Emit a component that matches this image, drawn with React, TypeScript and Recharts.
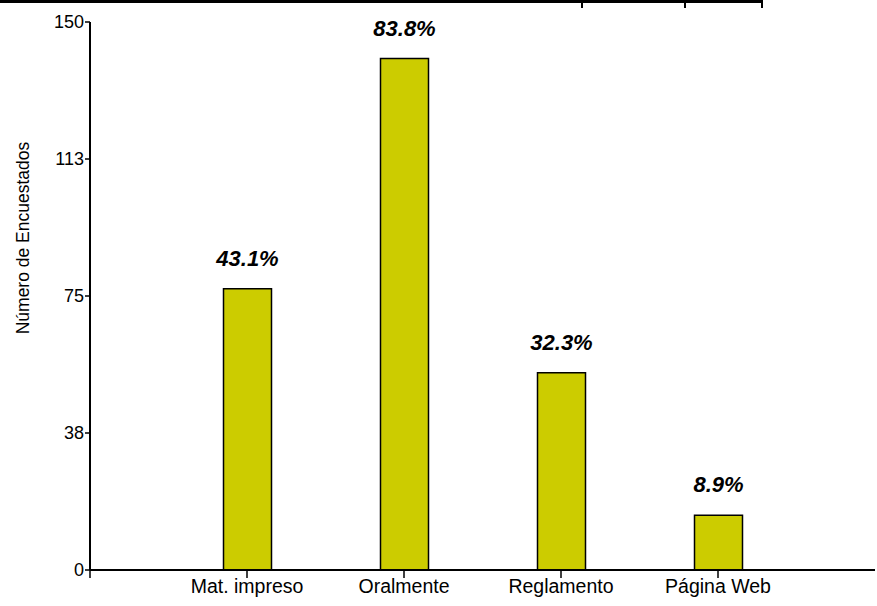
import { BarChart, Bar, XAxis, YAxis, LabelList, Label } from 'recharts';

const categories = ['Mat. impreso', 'Oralmente', 'Reglamento', 'Página Web'];
const counts = [77, 140, 54, 15];
const percents = ['43.1%', '83.8%', '32.3%', '8.9%'];
const yTicks = [0, 37.5, 75, 112.5, 150];
const xTicks = [0, 1, 2, 3, 4];

const data = categories.map((name, i) => ({
  pos: i + 1,
  name,
  count: counts[i],
  pct: percents[i],
}));

const FONT = '"Liberation Sans", Arial, sans-serif';

const PctLabel = (props: any) => {
  const { x, y, width, value } = props;
  return (
    <text
      x={x + width / 2}
      y={y - 23}
      textAnchor="middle"
      fontFamily={FONT}
      fontSize={22}
      fontWeight="bold"
      fontStyle="italic"
      fill="#000"
    >
      {value}
    </text>
  );
};

export default function App() {
  return (
    <div style={{ position: 'relative', width: 877, height: 606 }}>
      <style>{`body{margin:0;background:#fff}`}</style>
      {/* remnant of the table above the chart */}
      <div style={{ position: 'absolute', left: 0, top: 0, width: 763, height: 3, background: '#000' }} />
      <div style={{ position: 'absolute', left: 581, top: 0, width: 2, height: 8, background: '#000' }} />
      <div style={{ position: 'absolute', left: 684, top: 0, width: 2, height: 8, background: '#000' }} />
      <div style={{ position: 'absolute', left: 761, top: 0, width: 2, height: 8, background: '#000' }} />
      <BarChart
        width={877}
        height={606}
        data={data}
        margin={{ top: 22, right: 2, bottom: 1, left: 0 }}
        style={{ fontFamily: FONT }}
      >
        <XAxis
          type="number"
          dataKey="pos"
          domain={[0, 5]}
          ticks={xTicks}
          tickFormatter={(v: number) => (v === 0 ? '' : categories[v - 1])}
          height={35}
          tickSize={8}
          tickMargin={1}
          axisLine={{ stroke: '#000', strokeWidth: 2 }}
          tickLine={{ stroke: '#000', strokeWidth: 1.5 }}
          tick={{ fill: '#000', fontSize: 19.5, fontFamily: FONT }}
          interval={0}
        />
        <YAxis
          type="number"
          domain={[0, 150]}
          ticks={yTicks}
          tickFormatter={(v: number) => String(Math.round(v))}
          width={90}
          tickSize={5}
          tickMargin={1}
          axisLine={{ stroke: '#000', strokeWidth: 2 }}
          tickLine={{ stroke: '#000', strokeWidth: 1.5 }}
          tick={{ fill: '#000', fontSize: 18, fontFamily: FONT }}
          interval={0}
        >
          <Label
            content={() => (
              <text
                transform="translate(23,238) rotate(-90)"
                textAnchor="middle"
                dominantBaseline="central"
                fontFamily={FONT}
                fontSize={17.5}
                fill="#000"
              >
                Número de Encuestados
              </text>
            )}
          />
        </YAxis>
        <Bar
          dataKey="count"
          fill="#CCCC00"
          stroke="#000"
          strokeWidth={1.5}
          barSize={48}
          isAnimationActive={false}
        >
          <LabelList dataKey="pct" content={PctLabel} />
        </Bar>
      </BarChart>
    </div>
  );
}
